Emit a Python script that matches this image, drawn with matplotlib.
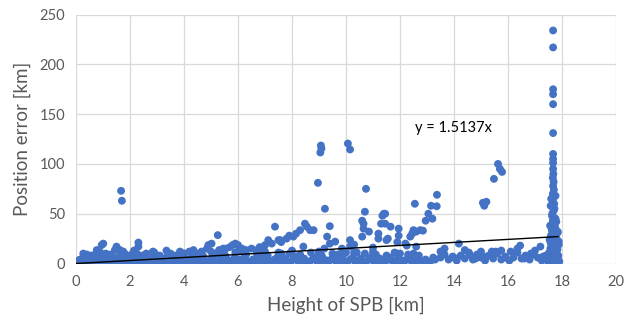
import matplotlib
matplotlib.use("Agg")
import matplotlib.pyplot as plt
import numpy as np

plt.rcParams['font.family'] = ['Lato', 'DejaVu Sans']

# ---- data ----
# dense low band
band_x = [0.05,0.1,0.2,0.3,0.35,0.45,0.5,0.6,0.65,0.75,0.8,0.9,1.0,1.05,1.15,1.2,1.3,1.4,1.5,1.55,
          1.65,1.75,1.85,1.9,2.0,2.1,2.2,2.3,2.4,2.5,2.55,2.65,2.75,2.85,2.95,3.05,3.15,3.25,3.35,3.45,
          3.55,3.65,3.75,3.85,3.95,4.05,4.15,4.25,4.35,4.45,4.55,4.65,4.75,4.85,4.95,5.05,5.15,5.25,5.35,5.45,
          5.55,5.65,5.75,5.85,5.95,6.05,6.15,6.25,6.35,6.45,6.55,6.65,6.75,6.85,6.95,7.05,7.15,7.25,7.35,7.45,
          7.55,7.65,7.75,7.85,7.95,8.05,8.15,8.25,8.35,8.45,8.55,8.65,8.75,8.85,8.95,9.05,9.15,9.25,9.35,9.45,
          9.55,9.65,9.75,9.85,9.95,10.05,10.15,10.25,10.35,10.45,10.55,10.65,10.75,10.85,10.95,11.05,11.15,11.25,11.35,11.45,
          11.55,11.65,11.75,11.85,11.95,12.05,12.15,12.25,12.35,12.45,12.55,12.65,12.75,12.85,12.95,13.1,13.5,13.65,13.8,13.95,
          14.1,14.25,14.4,14.55,14.7,14.85,15.0,15.15,15.3,15.45,15.6,15.75,15.9,16.05,16.2,16.35,16.5,16.65,16.8,16.95,
          17.1,17.25,17.4,6.9,7.6,8.3,9.0,9.7,10.4,11.1,11.8,12.5,4.6,5.3,3.0,2.2,1.1,0.4]
band_y = [1,3,0.5,2,5,1,3,0.5,6,2,4,1,3,7,1,4,2,6,1,3,
          5,2,0.5,4,2,6,1,3,5,1,3,0.5,4,2,6,1,3,5,0.5,2,
          4,1,3,6,0.5,2,4,1,3,6,0.5,2,4,1,3,6,0.5,2,4,1,
          7,3,0.5,5,2,4,1,6,2,0.5,4,2,7,1,3,5,0.5,2,4,6,
          1,3,5,0.5,2,4,7,1,3,5,0.5,2,4,6,1,3,5,0.5,2,4,
          7,1,3,5,0.5,2,4,6,1,3,5,0.5,2,4,7,1,3,5,0.5,2,
          4,6,1,3,5,0.5,2,4,7,1,3,5,0.5,2,4,1,6,9,4,7,
          3,8,5,11,4,9,6,3,8,5,10,4,7,3,6,11,5,8,4,9,
          6,3,8,9,10,8,10,9,11,9,11,10,8,9,8,9,10,9]

# second pass over the band (fills the gaps)
band2_x = [0.15,0.55,0.85,1.25,1.6,2.05,2.35,2.7,3.1,3.5,3.9,4.3,4.7,5.1,5.5,5.9,6.3,6.7,7.1,7.5,
           7.9,8.3,8.7,9.1,9.5,9.9,10.3,10.7,11.1,11.5,11.9,12.3,12.7,13.3,14.0,14.8,15.2,15.9,16.6,17.3,
           0.7,1.8,2.9,4.0,5.0,6.0,7.0,8.0,9.0,10.0,11.0,12.0,6.6,7.3,8.6,9.3,10.5,11.3,12.1,12.9]
band2_y = [4,8,6,9,7,9,8,9,8,10,9,7,8,10,9,11,9,10,8,11,
           10,9,11,8,10,9,11,10,9,8,10,9,8,4,6,5,7,6,5,7,
           9,10,11,10,12,12,12,13,12,11,12,10,3,2,1,3,2,1,3,2]

# upper edge of the cloud
upper_x = [0.27,0.33,0.77,0.9,0.95,1.01,1.44,1.5,1.63,1.75,2.15,2.31,2.31,2.25,2.45,2.6,2.85,3.35,3.4,3.65,
           3.85,4.0,4.2,4.35,4.45,4.65,4.85,4.9,5.02,5.25,5.2,5.3,5.45,5.55,5.7,5.8,5.9,6.0,6.15,6.3,
           6.5,6.7,6.8,7.0,7.12,7.25,7.37,7.5,7.6,7.56,7.8,8.05,8.15,8.3,8.48,8.55,8.67,8.8,8.42,9.3,
           9.4,9.2,9.85,10.15,10.15,10.6,10.65,10.6,10.65,10.85,11.2,11.2,11.3,11.35,11.4,11.5,11.65,11.45,11.45,11.55,
           11.95,11.95,11.9,12.38,12.45,12.5,12.6,12.75,12.85,12.95,13.05,13.15,13.2,12.6,12.25,12.2,13.23,13.5,13.65,14.18,
           14.4,14.6,15.0,15.4,15.55,15.75,16.1,16.35,16.45,16.85,17.0,17.2,17.6,9.6,10.3,7.9,6.2,11.0]
upper_y = [10,7,13.5,11,18.5,20,13.5,17,13.5,12,13,21,17,10,8,10,12,13,10,8,
           12,10,12,13.5,10,12,15,18.5,20,28.5,10,13.5,15,15,16.5,18.5,20,18.5,15,13.5,
           15,13.5,16.5,18.5,23.5,20,37,23.5,21.5,23.5,25,27,30,33.5,40,37,33.5,33.5,17,27,
           20,15,15,23.5,17,27,40,43,35,32,30,25,40,48,50,23.5,37,50,40,25,
           35,28,21.5,27,30,33.5,32,33.5,33,43,50,58,45,17,18,20,6,12,15,20,
           13.5,8.5,12,12,12,13,12,15,18,10,13,17,13,22,19,28,11,16]

# isolated outliers
out_x = [1.67,1.70,8.96,9.07,9.09,9.05,10.07,10.15,10.74,13.37,13.36,12.55,9.22,9.4,10.7,15.63,15.7,15.78,15.48,15.07,15.12,15.2]
out_y = [73,63,81,118.5,115.5,111.5,120.5,114.5,75,69,57.5,60,55,37.5,52,100,95,92,85,61,58,62]

# tall column near 17.7 km
col_x = [17.55,17.7,17.62,17.8,17.66,17.58,17.74,17.85,17.6,17.68,17.52,17.78,17.64,17.72,17.83,17.57,17.69,17.76,17.61,17.88,
         17.65,17.73,17.54,17.8,17.67,17.59,17.71,17.84,17.63,17.75,17.68,17.66,17.7,17.64,17.69,17.67,17.71,17.65,17.68,17.66,
         17.7,17.67,17.69,17.66,17.68,17.67,17.67,17.67,17.67,17.67,17.5,17.9,17.58,17.82,17.62,17.76,
         17.48,17.86,17.53,17.81,17.6,17.74,17.5,17.88,17.56,17.79,17.63,17.72,17.58,17.84,17.6,17.76,17.67,17.67,
         17.67,17.67,17.67]
col_y = [0,1,2,3,4,5,6,7,8,9,10,11,12,13,14,15,16,17,18,19,
         20,22,24,25,27,28,30,32,33,36,40,43,46,50,53,56,60,63,66,70,
         74,78,82,86,90,95,101,105,110,131,1,2,21,14,35,45,
         5,8,11,17,26,29,3,22,38,42,48,55,58,31,65,68,170,175,
         217,234,160]

slope = 1.5137
trend_range = [0, 17.85]

x = np.array(band_x + band2_x + upper_x + out_x + col_x, dtype=float)
y = np.array(band_y + band2_y + upper_y + out_y + col_y, dtype=float)

fig = plt.figure(figsize=(6.25, 3.28), dpi=100)
ax = fig.add_axes([0.1216, 0.1966, 0.864, 0.759])

ax.scatter(x, y, s=32, color='#4472C4', edgecolors='none', zorder=3)
tx = np.array(trend_range)
ax.plot(tx, slope * tx, color='black', lw=1.0, zorder=4)
ax.text(12.56, 136.5, 'y = 1.5137x', fontsize=10.5, color='#000000', va='center', ha='left')

ax.set_xlim(0, 20)
ax.set_ylim(0, 250)
ax.set_xticks(np.arange(0, 21, 2))
ax.set_yticks(np.arange(0, 251, 50))
ax.grid(True, color='#d9d9d9', lw=0.9, zorder=0)
for s in ax.spines.values():
    s.set_visible(False)
ax.tick_params(length=0, labelsize=10.5, colors='#595959', pad=8)
ax.set_xlabel('Height of SPB [km]', fontsize=13.5, color='#595959', labelpad=6)
ax.set_ylabel('Position error [km]', fontsize=13.5, color='#595959', labelpad=6)

fig.savefig('out.png', dpi=100)
